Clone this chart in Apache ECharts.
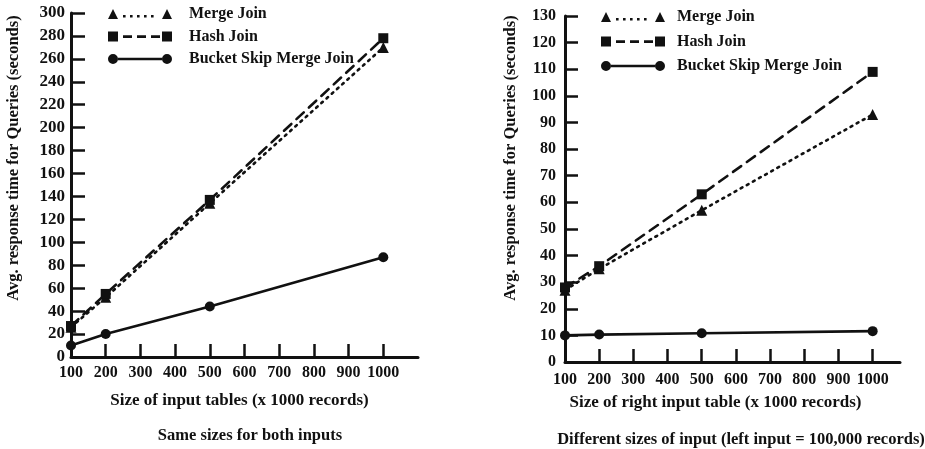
<!DOCTYPE html>
<html><head><meta charset="utf-8">
<script src="https://cdn.jsdelivr.net/npm/echarts@6/dist/echarts.min.js"></script>
<style>html,body{margin:0;padding:0;background:#fff}#c{width:925px;height:449px}</style>
</head><body><div id="c"></div>
<script>
const xValues = [100, 200, 500, 1000];
const xTickLabels = [100, 200, 300, 400, 500, 600, 700, 800, 900, 1000];
const seriesNames = ['Merge Join', 'Hash Join', 'Bucket Skip Merge Join'];
const leftMerge = [26, 52, 134, 270];
const leftHash = [27, 55, 137, 278];
const leftBucket = [10, 20, 44, 87];
const rightMerge = [27, 35, 57, 93];
const rightHash = [28, 36, 63, 109];
const rightBucket = [10, 10.3, 10.8, 11.6];
const leftXName = 'Size of input tables (x 1000 records)';
const rightXName = 'Size of right input table (x 1000 records)';
const yName = 'Avg. response time for Queries (seconds)';
const leftCaption = 'Same sizes for both inputs';
const rightCaption = 'Different sizes of input (left input = 100,000 records)';

const FONT = '"Liberation Serif", "DejaVu Serif", serif';
const INK = '#111';

function pts(ys) { return xValues.map((x, i) => [x, ys[i]]); }

const iconMerge = 'path://M0 10 L5 0 L10 10 Z M15 6 h2.6 v2.6 h-2.6 Z M22 6 h2.6 v2.6 h-2.6 Z M29 6 h2.6 v2.6 h-2.6 Z M36 6 h2.6 v2.6 h-2.6 Z M43 6 h2.6 v2.6 h-2.6 Z M54 10 L59 0 L64 10 Z';
const iconHash = 'path://M0 0 h10 v10 h-10 Z M15 3.8 h9 v2.6 h-9 Z M29 3.8 h9 v2.6 h-9 Z M43 3.8 h9 v2.6 h-9 Z M54 0 h10 v10 h-10 Z';
const iconBucket = 'path://M0 5 A5 5 0 1 0 10 5 A5 5 0 1 0 0 5 Z M10 3.7 h44 v2.6 h-44 Z M54 5 A5 5 0 1 0 64 5 A5 5 0 1 0 54 5 Z';

function xAxis(gi, max, name, namePadRight, margin, gap) {
  return {
    type: 'value', gridIndex: gi, min: 100, max: max,
    name: name, nameLocation: 'middle', nameGap: gap,
    nameTextStyle: { fontFamily: FONT, fontWeight: 'bold', fontSize: 17, color: INK, padding: [0, namePadRight, 0, 0] },
    axisLine: { lineStyle: { color: INK, width: 3 } },
    axisTick: { inside: true, length: 13, lineStyle: { color: INK, width: 2.5 }, customValues: xTickLabels },
    axisLabel: { fontFamily: FONT, fontWeight: 'bold', fontSize: 16, color: INK, margin: margin, customValues: xTickLabels, formatter: v => String(v) },
    splitLine: { show: false }
  };
}
function yAxis(gi, max, interval, gap, padLeft, margin, tickLen, labelSize) {
  return {
    type: 'value', gridIndex: gi, min: 0, max: max, interval: interval,
    name: yName, nameLocation: 'middle', nameGap: gap, nameRotate: 90,
    nameTextStyle: { fontFamily: FONT, fontWeight: 'bold', fontSize: 16.5, color: INK, padding: [0, 0, 0, padLeft] },
    axisLine: { show: true, lineStyle: { color: INK, width: 3 } },
    axisTick: { show: true, inside: true, length: tickLen, lineStyle: { color: INK, width: 2.5 } },
    axisLabel: { fontFamily: FONT, fontWeight: 'bold', fontSize: labelSize, color: INK, margin: margin, formatter: v => String(v) },
    splitLine: { show: false }
  };
}
function ser(name, gi, ys, symbol, dash) {
  return {
    name: name, type: 'line', xAxisIndex: gi, yAxisIndex: gi, data: pts(ys),
    symbol: symbol, symbolSize: symbol === 'triangle' ? 11 : 10,
    color: INK, itemStyle: { color: INK, borderWidth: 0 },
    lineStyle: { color: INK, width: 2.6, type: dash, cap: dash === 'solid' ? 'butt' : 'round' },
    z: symbol === 'rect' ? 3 : 2, animation: false
  };
}
function legend(gi, left, top, gap, pad) {
  return {
    left: left, top: top, orient: 'vertical', itemGap: gap, itemWidth: 64, itemHeight: 10,
    selectedMode: false,
    textStyle: { fontFamily: FONT, fontWeight: 'bold', fontSize: 16, color: INK, padding: [0, 0, 0, pad] },
    itemStyle: { borderWidth: 0 },
    data: [
      { name: seriesNames[0] + (gi ? ' ' : ''), icon: iconMerge },
      { name: seriesNames[1] + (gi ? ' ' : ''), icon: iconHash },
      { name: seriesNames[2] + (gi ? ' ' : ''), icon: iconBucket }
    ]
  };
}

const chart = echarts.init(document.getElementById('c'), null, { renderer: 'canvas' });
chart.setOption({
  animation: false,
  backgroundColor: '#fff',
  title: [
    { text: leftCaption, left: 245, top: 422, textAlign: 'center', textStyle: { fontFamily: FONT, fontWeight: 'bold', fontSize: 16.5, color: INK } },
    { text: rightCaption, left: 736, top: 426, textAlign: 'center', textStyle: { fontFamily: FONT, fontWeight: 'bold', fontSize: 16.5, color: INK } }
  ],
  legend: [legend(0, 103, 1, 6.5, 12), legend(1, 596, 4, 8.5, 7)],
  grid: [
    { left: 71, top: 13, width: 347, height: 344 },
    { left: 565, top: 16, width: 335, height: 346 }
  ],
  xAxis: [xAxis(0, 1100, leftXName, 10, 8, 35), xAxis(1, 1080, rightXName, 34, 10, 32)],
  yAxis: [yAxis(0, 300, 20, 49, 54, 6, 14, 17), yAxis(1, 130, 10, 46, 62, 9, 13, 16)],
  series: [
    ser(seriesNames[0], 0, leftMerge, 'triangle', [2, 5]),
    ser(seriesNames[1], 0, leftHash, 'rect', [10, 7]),
    ser(seriesNames[2], 0, leftBucket, 'circle', 'solid'),
    ser(seriesNames[0] + ' ', 1, rightMerge, 'triangle', [2, 5]),
    ser(seriesNames[1] + ' ', 1, rightHash, 'rect', [10, 7]),
    ser(seriesNames[2] + ' ', 1, rightBucket, 'circle', 'solid')
  ]
});
</script></body></html>
